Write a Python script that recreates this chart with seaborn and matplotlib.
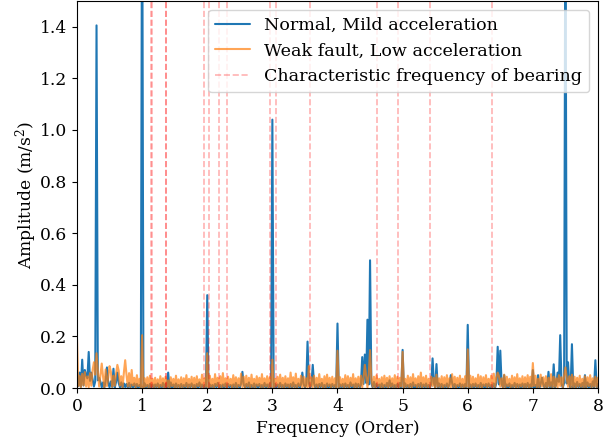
import matplotlib
matplotlib.use("Agg")
import matplotlib.pyplot as plt
import seaborn as sns
import numpy as np
import pandas as pd

# spectrum grid (order), 0.02 step from 0 to 8
freq_step = 0.02
n_points = 401

# background level of each spectrum, in thousandths of m/s^2
normal_floor = [
    40, 8, 35, 5, 30, 10, 45, 6, 38, 8, 28, 4, 32, 6, 26, 3, 30, 5, 24, 3,
    22, 2, 28, 4, 20, 3, 26, 5, 18, 2, 24, 4, 20, 3, 22, 1, 18, 4, 16, 2,
    20, 2, 14, 3, 18, 2, 16, 1, 12, 3, 14, 2, 18, 2, 12, 1, 16, 3, 14, 2,
    14, 2, 18, 2, 12, 1, 20, 3, 16, 2, 12, 2, 22, 2, 14, 1, 18, 3, 12, 2,
    16, 2, 12, 1, 20, 2, 14, 3, 18, 2, 12, 1, 16, 2, 22, 2, 14, 3, 12, 1,
    18, 2, 14, 2, 12, 1, 16, 3, 20, 2, 12, 2, 14, 1, 18, 2, 16, 3, 12, 2,
    14, 1, 20, 2, 12, 2, 18, 3, 14, 2, 16, 1, 22, 2, 12, 2, 18, 1, 14, 3,
    16, 2, 12, 2, 20, 1, 14, 3, 18, 2, 12, 1, 16, 2, 14, 2, 20, 3, 12, 1,
    18, 2, 14, 1, 16, 2, 22, 3, 12, 2, 18, 1, 14, 2, 16, 2, 12, 3, 20, 1,
    12, 2, 18, 2, 14, 1, 16, 3, 20, 2, 12, 2, 18, 1, 14, 2, 16, 3, 12, 2,
    20, 2, 14, 2, 16, 1, 18, 3, 12, 2, 22, 2, 14, 1, 18, 3, 16, 2, 12, 2,
    16, 1, 20, 2, 14, 2, 18, 3, 24, 3, 16, 2, 14, 1, 18, 2, 12, 2, 20, 3,
    14, 2, 18, 1, 12, 2, 16, 3, 20, 2, 14, 1, 18, 2, 12, 2, 16, 3, 22, 1,
    12, 2, 16, 2, 20, 1, 14, 3, 18, 2, 12, 2, 16, 1, 20, 2, 14, 3, 18, 2,
    16, 1, 12, 2, 18, 2, 14, 3, 20, 1, 16, 2, 12, 2, 18, 3, 14, 1, 16, 2,
    22, 2, 14, 2, 16, 1, 18, 3, 12, 2, 20, 2, 14, 1, 16, 3, 18, 2, 12, 2,
    18, 2, 20, 2, 14, 1, 16, 3, 22, 2, 14, 2, 18, 1, 12, 2, 20, 3, 16, 2,
    14, 2, 18, 1, 16, 2, 20, 3, 14, 2, 18, 2, 12, 1, 22, 2, 16, 3, 14, 2,
    20, 2, 16, 3, 22, 2, 18, 1, 14, 2, 24, 3, 16, 2, 20, 2, 18, 3, 14, 2,
    22, 2, 18, 2, 24, 3, 16, 1, 20, 2, 18, 2, 22, 3, 16, 2, 26, 2, 20, 3,
    14,
]

weak_floor = [
    60, 8, 48, 4, 55, 10, 62, 6, 45, 3, 58, 9, 70, 5, 52, 12, 66, 6, 50, 8,
    44, 4, 72, 8, 40, 10, 64, 5, 48, 9, 56, 4, 68, 10, 46, 3, 60, 12, 52, 6,
    58, 5, 46, 10, 40, 3, 50, 8, 36, 4, 44, 2, 38, 6, 42, 3, 48, 5, 36, 4,
    40, 5, 34, 2, 46, 6, 38, 3, 44, 5, 30, 2, 42, 8, 36, 2, 48, 4, 34, 3,
    42, 3, 38, 6, 50, 2, 36, 5, 44, 3, 40, 2, 46, 8, 34, 4, 52, 3, 38, 5,
    40, 3, 48, 5, 36, 2, 54, 8, 40, 4, 46, 3, 58, 6, 38, 2, 44, 9, 36, 3,
    50, 5, 42, 3, 38, 8, 56, 4, 44, 2, 48, 6, 40, 3, 52, 5, 36, 3, 46, 9,
    40, 3, 54, 4, 38, 6, 46, 2, 42, 5, 50, 3, 36, 8, 44, 3, 52, 4, 40, 2,
    46, 6, 38, 3, 60, 5, 42, 3, 56, 4, 36, 8, 48, 2, 44, 5, 38, 3, 50, 6,
    42, 3, 48, 5, 40, 3, 54, 6, 36, 2, 46, 4, 52, 8, 40, 3, 44, 5, 38, 3,
    48, 4, 42, 6, 36, 3, 50, 5, 46, 3, 40, 8, 54, 2, 38, 4, 44, 5, 48, 3,
    40, 6, 46, 3, 52, 4, 38, 5, 44, 3, 50, 8, 36, 2, 42, 4, 48, 6, 40, 3,
    46, 5, 38, 3, 50, 4, 44, 3, 40, 6, 52, 2, 36, 5, 48, 4, 42, 3, 54, 8,
    38, 3, 46, 5, 60, 3, 42, 6, 48, 4, 36, 3, 44, 8, 40, 2, 52, 5, 38, 4,
    46, 3, 42, 6, 50, 4, 38, 3, 54, 5, 44, 2, 40, 8, 48, 4, 36, 3, 46, 5,
    40, 4, 48, 3, 44, 6, 38, 5, 52, 3, 46, 2, 42, 8, 50, 4, 36, 6, 48, 3,
    56, 5, 40, 3, 46, 6, 38, 3, 52, 4, 44, 8, 36, 3, 48, 5, 42, 2, 54, 4,
    38, 6, 46, 3, 42, 4, 50, 3, 44, 5, 40, 8, 48, 3, 36, 4, 52, 6, 42, 3,
    46, 4, 40, 6, 54, 3, 44, 5, 38, 3, 50, 8, 42, 4, 48, 2, 40, 5, 46, 3,
    52, 4, 44, 3, 40, 6, 48, 5, 36, 3, 46, 4, 42, 8, 50, 3, 38, 5, 44, 4,
    40,
]

# peaks: (order, thousandths of m/s^2)
normal_peak_freq = [0.04, 0.08, 0.12, 0.14, 0.18, 0.22, 0.30, 0.34, 0.46, 0.56, 0.62,
                    1.00, 1.40, 2.00, 2.54, 3.00, 3.46, 3.54, 3.62, 4.00, 4.38, 4.42,
                    4.46, 4.50, 4.80, 5.00, 5.46, 5.52, 5.74, 6.00, 6.46, 6.50, 6.56,
                    7.00, 7.08, 7.14, 7.24, 7.32, 7.38, 7.42, 7.50, 7.54, 7.60, 7.80, 7.96]
normal_peak_amp = [60, 110, 70, 50, 140, 60, 1405, 40, 80, 75, 60,
                   2100, 60, 360, 63, 1040, 60, 180, 90, 250, 120, 130,
                   265, 495, 30, 148, 115, 93, 50, 245, 160, 145, 50,
                   70, 50, 40, 63, 92, 60, 205, 2000, 100, 170, 50, 108]

weak_peak_freq = [0.00, 0.26, 0.30, 0.38, 0.50, 0.62, 0.74, 0.84, 1.00, 2.00, 3.00,
                  3.56, 4.00, 4.42, 4.50, 5.00, 6.00, 6.46, 7.00, 7.50]
weak_peak_amp = [190, 100, 135, 95, 85, 90, 108, 70, 205, 135, 110,
                 85, 145, 90, 147, 140, 150, 60, 97, 80]

# bearing characteristic frequencies (order)
bearing_freq = [1.14, 1.155, 1.37, 1.37, 1.95, 2.02, 2.18, 2.30, 2.96, 3.055,
                3.58, 4.60, 4.93, 5.42, 6.38]


def build_spectrum(floor, peak_freq, peak_amp):
    amp = np.array(floor, dtype=float)
    for f, a in zip(peak_freq, peak_amp):
        amp[int(round(f / freq_step))] = a
    return amp / 1000.0


freq = np.round(np.arange(n_points) * freq_step, 2)
df = pd.DataFrame({
    "freq": freq,
    "normal": build_spectrum(normal_floor, normal_peak_freq, normal_peak_amp),
    "weak": build_spectrum(weak_floor, weak_peak_freq, weak_peak_amp),
})

sns.set_style("ticks")
plt.rcParams["font.family"] = ["DejaVu Serif"]
plt.rcParams["mathtext.fontset"] = "dejavuserif"
plt.rcParams["font.size"] = 12
plt.rcParams["text.color"] = "black"
plt.rcParams["axes.labelcolor"] = "black"
plt.rcParams["xtick.color"] = "black"
plt.rcParams["ytick.color"] = "black"
plt.rcParams["axes.edgecolor"] = "black"

fig, ax = plt.subplots(figsize=(6.13, 4.4), dpi=100)
fig.subplots_adjust(left=0.1256, right=0.9755, bottom=0.118, top=0.998)

sns.lineplot(data=df, x="freq", y="normal", ax=ax, color="tab:blue", lw=1.5,
             estimator=None, label="Normal, Mild acceleration")
sns.lineplot(data=df, x="freq", y="weak", ax=ax, color="tab:orange", lw=1.5,
             alpha=0.7, estimator=None, label="Weak fault, Low acceleration")

for i, f in enumerate(bearing_freq):
    ax.axvline(f, color="red", ls="--", lw=1.2, alpha=0.3,
               label="Characteristic frequency of bearing" if i == 0 else None)

ax.set_xlim(0, 8)
ax.set_ylim(0, 1.5)
ax.set_xticks(range(0, 9))
ax.set_yticks(np.arange(0, 1.41, 0.2))
ax.set_xlabel("Frequency (Order)", fontsize=12.3)
ax.set_ylabel("Amplitude (m/s$^2$)", fontsize=12.3, labelpad=1)
ax.tick_params(labelsize=12.3)
ax.legend(loc="upper right", fontsize=12.6)

plt.savefig("out.png", dpi=100)
plt.close()
